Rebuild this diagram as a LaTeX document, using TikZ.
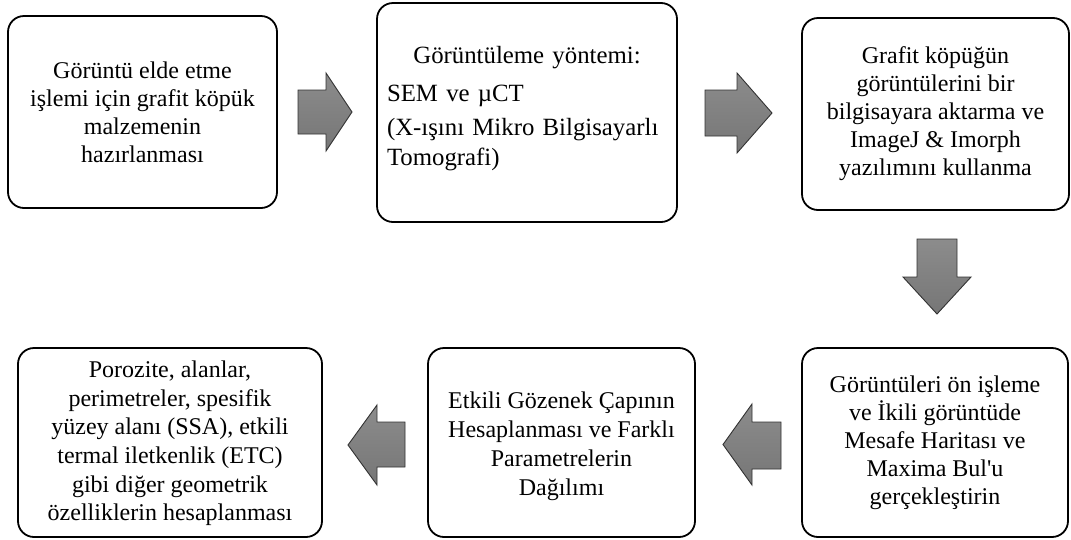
\documentclass[tikz,border=0pt]{standalone}
\usepackage{fontspec}
\setmainfont{Liberation Serif}
\newcommand{\straightquote}{\XeTeXglyph\XeTeXcharglyph"0027\relax}
\begin{document}
\begin{tikzpicture}[x=1pt,y=-1pt,
  box/.style={draw=black, line width=1.8pt, rounded corners=16pt, fill=white,
    align=center, inner sep=0pt, font=\fontsize{24}{28}\selectfont},
  boxtext/.style={align=center, inner sep=0pt, anchor=center},
  blockarrow/.style={draw={rgb,255:red,50;green,50;blue,50}, line width=0.9pt, line join=miter,
    top color={rgb,255:red,140;green,140;blue,140}, bottom color={rgb,255:red,118;green,118;blue,118}}
]
\useasboundingbox (0,0) rectangle (1071,539);

% boxes
\node[box, minimum width=269pt, minimum height=192pt] (b1) at (142.5,112)
  {Görüntü elde etme\\ işlemi için grafit köpük\\ malzemenin\\ hazırlanması};
\node[box, minimum width=300pt, minimum height=219pt] (b2) at (527,112.5) {};
\node[align=left, text width=280pt, inner sep=0pt, font=\fontsize{24.8}{28.5}\selectfont, anchor=center]
  (b2t) at (527,108.5)
  {\makebox[\linewidth]{Görüntüleme yöntemi:}\\[9.5pt] SEM ve µCT\\[5.5pt] (X-ışını Mikro Bilgisayarlı\\[1pt] Tomografi)};
\node[box, minimum width=267pt, minimum height=192pt] (b3) at (935.5,114)
  {Grafit köpüğün\\ görüntülerini bir\\ bilgisayara aktarma ve\\ ImageJ \& Imorph\\ yazılımını kullanma};
\node[box, minimum width=266pt, minimum height=189pt] (b6) at (935,442.5)
  {Görüntüleri ön işleme\\ ve İkili görüntüde\\ Mesafe Haritası ve\\ Maxima Bul\straightquote u\\ gerçekleştirin};
\node[box, minimum width=267pt, minimum height=189pt] (b5) at (561.5,442.5) {};
\node[boxtext, font=\fontsize{24}{29}\selectfont] (b5t) at (561.5,446)
  {Etkili Gözenek Çapının\\ Hesaplanması ve Farklı\\ Parametrelerin\\ Dağılımı};
\node[box, minimum width=304pt, minimum height=189pt] (b4) at (170,442.5) {};
\node[boxtext, font=\fontsize{24}{28.6}\selectfont] (b4t) at (170,443.5)
  {Porozite, alanlar,\\ perimetreler, spesifik\\ yüzey alanı (SSA), etkili\\ termal iletkenlik (ETC)\\ gibi diğer geometrik\\ özelliklerin hesaplanması};

% block arrows
% b1 -> b2
\draw[blockarrow] (298,90) -- (326,90) -- (326,73) -- (352,112) -- (326,151) -- (326,134) -- (298,134) -- cycle;
% b2 -> b3
\draw[blockarrow] (705,90) -- (737,90) -- (737,73) -- (772,113) -- (737,153) -- (737,136) -- (705,136) -- cycle;
% b3 -> b6
\draw[blockarrow] (917,239) -- (957,239) -- (957,277) -- (971,277) -- (937,314) -- (903,277) -- (917,277) -- cycle;
% b6 -> b5
\draw[blockarrow] (781,422) -- (752,422) -- (752,404) -- (723,444.5) -- (752,485) -- (752,469) -- (781,469) -- cycle;
% b5 -> b4
\draw[blockarrow] (405,422) -- (377,422) -- (377,405) -- (348,445) -- (377,485) -- (377,467) -- (405,467) -- cycle;
\end{tikzpicture}
\end{document}
